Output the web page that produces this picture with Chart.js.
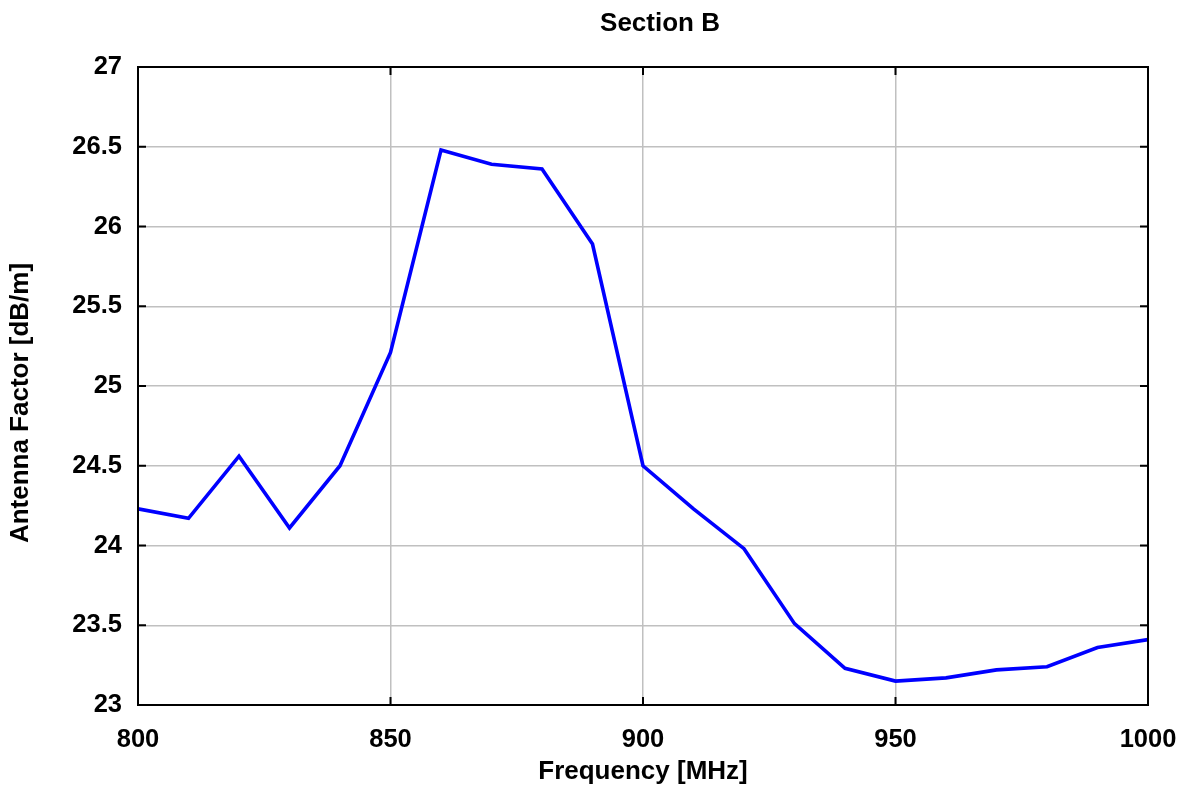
<!DOCTYPE html>
<html>
<head>
<meta charset="utf-8">
<script src="https://cdn.jsdelivr.net/npm/chart.js@4.4.0/dist/chart.umd.min.js"></script>
<style>
  html, body { margin: 0; padding: 0; background: #fff; }
  #wrap { width: 1187px; height: 787px; }
</style>
</head>
<body>
<div id="wrap"><canvas id="c" width="1187" height="787"></canvas></div>
<script>
// Antenna factor, section B
const frequencies = [800, 810, 820, 830, 840, 850, 860, 870, 880, 890, 900,
                     910, 920, 930, 940, 950, 960, 970, 980, 990, 1000];
const antennaFactor = [24.23, 24.17, 24.56, 24.11, 24.50, 25.21, 26.48, 26.39, 26.36, 25.89, 24.50,
                       24.23, 23.98, 23.51, 23.23, 23.15, 23.17, 23.22, 23.24, 23.36, 23.41];
const xTicks = [800, 850, 900, 950, 1000];
const yTicks = [23, 23.5, 24, 24.5, 25, 25.5, 26, 26.5, 27];

const FONT = "'Liberation Sans', Arial, Helvetica, sans-serif";
const TICK_FONT = { family: FONT, size: 25.5, weight: 'bold' };
const LABEL_FONT = { family: FONT, size: 26, weight: 'bold' };

// box around the axes, inward ticks, title and y label (placed like the original figure)
const boxPlugin = {
  id: 'box',
  afterDatasetsDraw(chart) {
    const { ctx, chartArea: a, scales } = chart;
    const len = 8;
    ctx.save();
    ctx.strokeStyle = '#000';
    ctx.lineWidth = 2;
    ctx.beginPath();
    xTicks.forEach(v => {
      const px = scales.x.getPixelForValue(v);
      ctx.moveTo(px, a.bottom); ctx.lineTo(px, a.bottom - len);
      ctx.moveTo(px, a.top); ctx.lineTo(px, a.top + len);
    });
    yTicks.forEach(v => {
      const py = scales.y.getPixelForValue(v);
      ctx.moveTo(a.left, py); ctx.lineTo(a.left + len, py);
      ctx.moveTo(a.right, py); ctx.lineTo(a.right - len, py);
    });
    ctx.stroke();
    ctx.strokeRect(a.left, a.top, a.right - a.left, a.bottom - a.top);

    ctx.fillStyle = '#000';
    ctx.font = `bold ${LABEL_FONT.size}px ${FONT}`;
    ctx.textAlign = 'center';
    ctx.textBaseline = 'middle';
    ctx.fillText('Section B', 660, 24);

    ctx.translate(21, 403);
    ctx.rotate(-Math.PI / 2);
    ctx.fillText('Antenna Factor [dB/m]', 0, 0);
    ctx.restore();
  }
};

new Chart(document.getElementById('c'), {
  type: 'line',
  data: {
    datasets: [{
      data: frequencies.map((f, i) => ({ x: f, y: antennaFactor[i] })),
      borderColor: '#0000ff',
      borderWidth: 3.6,
      pointRadius: 0,
      tension: 0,
      fill: false,
    }],
  },
  options: {
    responsive: false,
    animation: false,
    devicePixelRatio: 1,
    layout: { padding: { left: 0, right: 39, top: 67, bottom: 0 } },
    plugins: {
      legend: { display: false },
      tooltip: { enabled: false },
      title: { display: false },
    },
    scales: {
      x: {
        type: 'linear',
        min: 800,
        max: 1000,
        afterBuildTicks: s => { s.ticks = xTicks.map(v => ({ value: v })); },
        afterFit: s => { s.height = 82; s.paddingLeft = 0; s.paddingRight = 0; },
        ticks: {
          color: '#000',
          padding: 20,
          font: TICK_FONT,
          callback: v => String(v),
        },
        grid: { color: '#c0c0c0', lineWidth: 1.5, drawTicks: false },
        border: { display: false },
        title: {
          display: true,
          text: 'Frequency [MHz]',
          color: '#000',
          font: LABEL_FONT,
          padding: { top: 0, bottom: 0 },
        },
      },
      y: {
        type: 'linear',
        min: 23,
        max: 27,
        afterBuildTicks: s => { s.ticks = yTicks.map(v => ({ value: v })); },
        afterFit: s => { s.width = 138; s.paddingTop = 0; s.paddingBottom = 0; },
        ticks: {
          color: '#000',
          padding: 16,
          font: TICK_FONT,
          callback: v => String(v),
        },
        grid: { color: '#c0c0c0', lineWidth: 1.5, drawTicks: false },
        border: { display: false },
      },
    },
  },
  plugins: [boxPlugin],
});
</script>
</body>
</html>
